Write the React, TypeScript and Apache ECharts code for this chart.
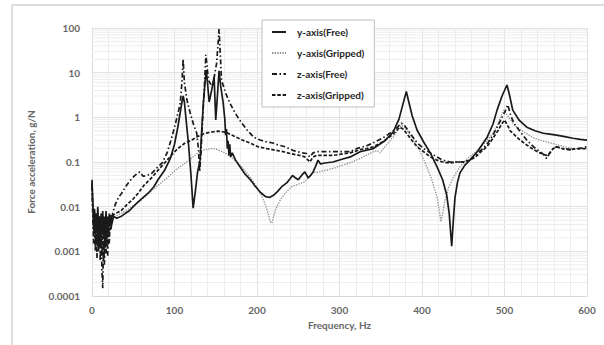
import React, { useEffect, useRef } from "react";
import * as echarts from "echarts";

const seriesNames = ["y-axis(Free)", "y-axis(Gripped)", "z-axis(Free)", "z-axis(Gripped)"];

const xTicks = [0, 100, 200, 300, 400, 500, 600];
const yTickValues = [0.0001, 0.001, 0.01, 0.1, 1, 10, 100];
const yTickLabels = ["0.0001", "0.001", "0.01", "0.1", "1", "10", "100"];
const minorMultipliers = [2, 3, 4, 5, 6, 7, 8, 9];

const yFree: [number, number][] = [
  [0, 0.04], [1, 0.012], [2, 0.004], [3, 0.009], [4, 0.0025], [5, 0.007], [6, 0.003], [7, 0.01], [8, 0.002], [9, 0.006],
  [10, 0.0015], [11, 0.007], [12, 0.0025], [13, 0.008], [14, 0.002], [15, 0.006], [16, 0.003], [17, 0.008], [18, 0.0025],
  [19, 0.006], [20, 0.003], [21, 0.007], [22, 0.004], [23, 0.0065], [24, 0.004], [26, 0.006], [30, 0.0055], [35, 0.006],
  [40, 0.007], [45, 0.008], [52, 0.011], [60, 0.015], [68, 0.02], [75, 0.028], [80, 0.04], [88, 0.065], [95, 0.12],
  [100, 0.25], [104, 0.6], [107, 1.3], [109, 2.2], [110.5, 3], [112, 2.2], [114, 0.9], [117, 0.25], [120, 0.05],
  [122.6, 0.0093], [125, 0.02], [128, 0.06], [131, 0.11], [133, 0.52], [135, 2.1], [137, 6], [138.5, 11.4], [140, 6],
  [142, 2.2], [145, 4], [148, 8], [150, 0.87], [152, 3], [154, 11], [156, 5], [159, 2.1], [161, 0.9], [162, 0.4],
  [163, 0.55], [164, 0.2], [165, 0.3], [166, 0.14], [167, 0.25], [168, 0.13], [170, 0.16], [174, 0.11], [179, 0.08],
  [185, 0.055], [191, 0.042], [197, 0.03], [204, 0.021], [210, 0.017], [215, 0.016], [220, 0.018], [225, 0.022],
  [230, 0.028], [236, 0.034], [240, 0.042], [243, 0.05], [246, 0.045], [250, 0.04], [254, 0.05], [258, 0.06],
  [262, 0.044], [265, 0.05], [268, 0.06], [271, 0.08], [274, 0.11], [277, 0.09], [282, 0.095], [292, 0.1], [303, 0.115],
  [313, 0.13], [325, 0.17], [341, 0.2], [355, 0.3], [365, 0.47], [372, 0.9], [377, 2], [381, 3.8], [384, 2.2],
  [388, 1.1], [394, 0.52], [402, 0.28], [410, 0.16], [418, 0.08], [425, 0.04], [430, 0.018], [433, 0.007], [436, 0.0013],
  [438, 0.005], [440, 0.016], [443, 0.035], [446, 0.057], [452, 0.085], [458, 0.11], [467, 0.17], [479, 0.36],
  [486, 0.7], [491, 1.45], [497, 3], [503, 5.3], [506, 3.2], [510, 1.45], [518, 0.85], [527, 0.6], [537, 0.5],
  [547, 0.44], [555, 0.42], [563, 0.4], [573, 0.37], [583, 0.34], [592, 0.32], [600, 0.31],
];

const yGripped: [number, number][] = [
  [0, 0.03], [1, 0.01], [2, 0.005], [3, 0.008], [4, 0.003], [5, 0.007], [6, 0.0035], [7, 0.009], [8, 0.003], [9, 0.006],
  [10, 0.002], [11, 0.006], [12, 0.003], [13, 0.007], [14, 0.0025], [15, 0.005], [16, 0.003], [17, 0.007], [18, 0.003],
  [19, 0.006], [20, 0.0035], [21, 0.006], [22, 0.004], [24, 0.005], [28, 0.006], [35, 0.007], [45, 0.009], [55, 0.012],
  [65, 0.017], [73, 0.023], [82, 0.032], [92, 0.046], [102, 0.068], [113, 0.095], [120, 0.12], [128, 0.16], [136, 0.185],
  [145, 0.2], [150, 0.195], [155, 0.18], [161, 0.16], [168, 0.13], [177, 0.095], [185, 0.065], [194, 0.04], [200, 0.027],
  [206, 0.017], [211, 0.01], [214, 0.0065], [216, 0.0046], [218, 0.0043], [220, 0.006], [223, 0.009], [228, 0.014],
  [235, 0.021], [242, 0.028], [250, 0.032], [258, 0.036], [263, 0.045], [268, 0.06], [272, 0.058], [278, 0.062],
  [285, 0.066], [295, 0.075], [304, 0.085], [315, 0.1], [325, 0.12], [335, 0.15], [341, 0.17], [346, 0.18], [349, 0.16],
  [355, 0.22], [360, 0.28], [365, 0.36], [370, 0.5], [375, 0.67], [379, 0.6], [383, 0.48], [388, 0.36], [396, 0.2],
  [404, 0.094], [411, 0.045], [418, 0.017], [421, 0.008], [423, 0.0046], [425, 0.007], [428, 0.014], [432, 0.026],
  [438, 0.045], [446, 0.078], [455, 0.12], [467, 0.18], [477, 0.28], [486, 0.44], [492, 0.7], [496, 1.1], [499, 1.45],
  [502, 1.2], [506, 0.95], [510, 0.75], [515, 0.6], [525, 0.45], [535, 0.35], [545, 0.3], [555, 0.27], [565, 0.24],
  [576, 0.21], [588, 0.2], [600, 0.2],
];

const zFree: [number, number][] = [
  [0, 0.03], [1, 0.006], [2, 0.0015], [3, 0.007], [4, 0.001], [5, 0.005], [6, 0.0007], [7, 0.004], [8, 0.0012], [9, 0.006],
  [10, 0.0006], [11, 0.003], [12, 0.0004], [13, 0.00015], [14, 0.002], [15, 0.0005], [16, 0.004], [17, 0.0009],
  [18, 0.005], [19, 0.0008], [20, 0.004], [21, 0.0015], [22, 0.006], [23, 0.003], [25, 0.007], [28, 0.011], [32, 0.016],
  [36, 0.02], [40, 0.027], [44, 0.034], [48, 0.042], [52, 0.05], [56, 0.057], [58, 0.06], [62, 0.048], [67, 0.05],
  [73, 0.057], [79, 0.075], [85, 0.095], [91, 0.16], [97, 0.37], [101, 0.7], [104, 1.2], [107, 2.1], [109, 6], [110.5, 20],
  [112, 6], [115, 2.5], [119, 1.25], [123, 0.7], [127, 0.44], [129, 0.2], [130.5, 0.06], [132, 0.15], [134, 0.87],
  [136, 4], [138, 25], [139.5, 14], [141, 6.8], [144, 5.5], [147, 5.8], [149, 10], [151, 16], [153, 50], [154, 95],
  [155, 40], [157, 6.8], [162, 3.5], [167, 2.1], [173, 1.3], [179, 0.87], [188, 0.52], [196, 0.36], [204, 0.31],
  [212, 0.28], [218, 0.27], [226, 0.24], [234, 0.22], [244, 0.18], [255, 0.16], [260, 0.155], [264, 0.13], [268, 0.16],
  [272, 0.17], [282, 0.17], [292, 0.17], [301, 0.17], [313, 0.17], [321, 0.2], [333, 0.23], [341, 0.27], [352, 0.34],
  [361, 0.44], [368, 0.55], [375, 0.74], [379, 0.65], [384, 0.48], [389, 0.36], [394, 0.27], [402, 0.2], [410, 0.16],
  [418, 0.13], [425, 0.11], [434, 0.1], [442, 0.1], [450, 0.1], [458, 0.11], [466, 0.15], [474, 0.2], [480, 0.27],
  [486, 0.4], [492, 0.65], [497, 1], [501, 1.4], [504, 1.9], [507, 1.2], [510, 0.85], [513, 0.67], [520, 0.45],
  [527, 0.31], [535, 0.22], [543, 0.17], [547, 0.15], [551, 0.12], [555, 0.16], [559, 0.2], [563, 0.22], [570, 0.2],
  [579, 0.19], [590, 0.2], [600, 0.22],
];

const zGripped: [number, number][] = [
  [0, 0.035], [1, 0.008], [2, 0.003], [3, 0.008], [4, 0.0015], [5, 0.006], [6, 0.0015], [7, 0.007], [8, 0.001],
  [9, 0.005], [10, 0.0012], [11, 0.004], [12, 0.0008], [13, 0.003], [14, 0.0006], [15, 0.003], [16, 0.0012], [17, 0.006],
  [18, 0.0015], [19, 0.005], [20, 0.002], [21, 0.006], [22, 0.003], [24, 0.006], [28, 0.007], [35, 0.008], [42, 0.011],
  [50, 0.015], [56, 0.02], [63, 0.03], [73, 0.046], [80, 0.065], [88, 0.095], [96, 0.14], [104, 0.2], [112, 0.26],
  [121, 0.31], [129, 0.38], [137, 0.44], [145, 0.47], [153, 0.49], [160, 0.47], [165, 0.44], [172, 0.38], [182, 0.31],
  [191, 0.27], [201, 0.22], [212, 0.2], [225, 0.18], [232, 0.17], [240, 0.155], [252, 0.14], [258, 0.13], [262, 0.11],
  [264, 0.1], [268, 0.13], [272, 0.14], [282, 0.14], [292, 0.14], [302, 0.15], [313, 0.16], [325, 0.19], [333, 0.2],
  [341, 0.22], [352, 0.28], [362, 0.38], [368, 0.48], [373, 0.6], [377, 0.55], [382, 0.42], [388, 0.3], [394, 0.22],
  [402, 0.17], [410, 0.13], [418, 0.11], [425, 0.1], [434, 0.095], [442, 0.1], [450, 0.1], [458, 0.11], [465, 0.13],
  [470, 0.16], [476, 0.2], [481, 0.25], [486, 0.34], [492, 0.5], [496, 0.68], [500, 0.87], [503, 0.7], [507, 0.5],
  [510, 0.44], [518, 0.32], [527, 0.24], [535, 0.19], [543, 0.16], [547, 0.15], [551, 0.14], [555, 0.16], [559, 0.2],
  [563, 0.22], [570, 0.2], [579, 0.19], [590, 0.2], [600, 0.2],
];

const FONT = "Lato";

export default function App() {
  const ref = useRef<HTMLDivElement>(null);

  useEffect(() => {
    if (!ref.current) return;
    const chart = echarts.init(ref.current, undefined, { renderer: "svg" });

    const minorLines: number[] = [];
    for (let i = 0; i < yTickValues.length - 1; i++) {
      for (const m of minorMultipliers) minorLines.push(m * yTickValues[i]);
    }

    const gridSeries = minorLines.map((v, i) => ({
      name: "_minor" + i,
      type: "line",
      data: [
        [0, v],
        [600, v],
      ],
      symbol: "none",
      silent: true,
      z: 1,
      lineStyle: { color: "#ededed", width: 1, type: "solid" },
      emphasis: { disabled: true },
    }));

    const lineBase = {
      type: "line" as const,
      symbol: "none",
      showSymbol: false,
      smooth: false,
      z: 3,
    };

    const option: any = {
      animation: false,
      backgroundColor: "#ffffff",
      textStyle: { fontFamily: FONT },
      graphic: [
        {
          type: "rect",
          shape: { x: 12, y: 5, width: 640, height: 400 },
          style: { fill: "none", stroke: "#bdbdbd", lineWidth: 1 },
          silent: true,
          z: 0,
        },
      ],
      grid: { left: 92, right: 17, top: 28, bottom: 49, containLabel: false },
      legend: {
        data: seriesNames,
        orient: "vertical",
        left: 262,
        top: 20,
        itemWidth: 14,
        itemHeight: 10,
        itemGap: 11,
        padding: [7, 10, 7, 9],
        borderColor: "#bfbfbf",
        borderWidth: 1,
        backgroundColor: "#ffffff",
        itemStyle: { opacity: 0 },
        textStyle: { fontFamily: FONT, fontSize: 10, fontWeight: "bold", color: "#262626", padding: [0, 0, 0, 6] },
        z: 10,
      },
      xAxis: {
        type: "value",
        min: 0,
        max: 600,
        interval: 100,
        name: "Frequency, Hz",
        nameLocation: "middle",
        nameGap: 24,
        nameTextStyle: { fontFamily: FONT, fontSize: 10, fontWeight: "bold", color: "#666666" },
        axisLine: { show: true, lineStyle: { color: "#d9d9d9" } },
        axisTick: { show: false },
        axisLabel: {
          fontFamily: FONT,
          fontSize: 10,
          fontWeight: "bold",
          color: "#666666",
          margin: 9,
          formatter: (v: number) => (xTicks.includes(v) ? String(v) : ""),
        },
        splitLine: { show: true, lineStyle: { color: "#e0e0e0", width: 1 } },
        minorTick: { show: false, splitNumber: 5 },
        minorSplitLine: { show: true, lineStyle: { color: "#ededed", width: 1 } },
      },
      yAxis: {
        type: "log",
        logBase: 10,
        min: 0.0001,
        max: 100,
        name: "Force acceleration, g/N",
        nameLocation: "middle",
        nameGap: 56,
        nameTextStyle: { fontFamily: FONT, fontSize: 10, fontWeight: "bold", color: "#666666" },
        axisLine: { show: true, lineStyle: { color: "#d9d9d9" } },
        axisTick: { show: false },
        axisLabel: {
          fontFamily: FONT,
          fontSize: 10,
          fontWeight: "bold",
          color: "#666666",
          margin: 12,
          formatter: (v: number) => {
            const idx = yTickValues.findIndex((t) => Math.abs(Math.log10(t) - Math.log10(v)) < 1e-6);
            return idx >= 0 ? yTickLabels[idx] : "";
          },
        },
        splitLine: { show: true, lineStyle: { color: "#e0e0e0", width: 1 } },
      },
      series: [
        ...gridSeries,
        {
          ...lineBase,
          name: seriesNames[1],
          data: yGripped,
          lineStyle: { color: "#8c8c8c", width: 1.3, type: [1.3, 1.3] },
          itemStyle: { color: "#8c8c8c" },
        },
        {
          ...lineBase,
          name: seriesNames[3],
          data: zGripped,
          lineStyle: { color: "#1a1a1a", width: 1.7, type: [3.5, 1.8] },
          itemStyle: { color: "#1a1a1a" },
        },
        {
          ...lineBase,
          name: seriesNames[2],
          data: zFree,
          lineStyle: { color: "#1a1a1a", width: 1.7, type: [5, 2.5, 1.5, 2.5] },
          itemStyle: { color: "#1a1a1a" },
        },
        {
          ...lineBase,
          name: seriesNames[0],
          data: yFree,
          lineStyle: { color: "#1a1a1a", width: 1.7, type: "solid" },
          itemStyle: { color: "#1a1a1a" },
        },
      ],
    };

    chart.setOption(option);
    return () => chart.dispose();
  }, []);

  return (
    <div
      ref={ref}
      style={{ position: "fixed", left: 0, top: 0, width: 604, height: 345, background: "#fff" }}
    />
  );
}
